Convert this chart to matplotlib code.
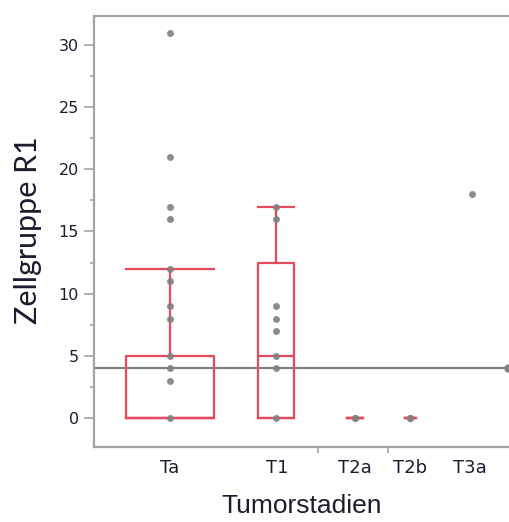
import matplotlib
matplotlib.use("Agg")
import matplotlib.pyplot as plt
from matplotlib.ticker import MultipleLocator

# data
groups = ["Ta", "T1", "T2a", "T2b", "T3a"]
ta_values = [0, 3, 4, 5, 8, 9, 11, 12, 16, 17, 21, 31]
t1_values = [0, 4, 5, 7, 8, 9, 16, 17]
t2a_values = [0, 0]
t2b_values = [0, 0]
t3a_values = [18]
points = [ta_values, t1_values, t2a_values, t2b_values, t3a_values]

# box summaries (q1, median, q3, upper whisker) for groups that have a box
box_q1 = [0, 0, 0, 0]
box_med = [0, 5, 0, 0]
box_q3 = [5, 12.5, 0, 0]
box_whishi = [12, 17, 0, 0]
grand_mean = 4.0

# layout (x in pixel-like units across the plot frame)
pos = [76, 182, 261, 316.5, 378]
label_pos = [76, 183, 261, 316, 376]
box_w = [88, 36, 16, 11]
sep_ticks = [224, 294]

RED = "#e8485e"
GRAY = "#808080"
SPINE = "#a3a3a3"
TXT = "#1c1c30"

fig = plt.figure(figsize=(5.10, 5.22), dpi=100)
ax = fig.add_axes([94 / 510, 75 / 522, 416 / 510, 431 / 522])
ax.set_xlim(0, 416)
ax.set_ylim(-2.33, 32.33)

# grand mean line
ax.axhline(grand_mean, color=GRAY, lw=1.6, zorder=2)
ax.plot([414], [grand_mean], "o", color=GRAY, ms=5, clip_on=False, zorder=2)

stats = []
for i in range(len(box_q1)):
    stats.append(dict(q1=box_q1[i], med=box_med[i], q3=box_q3[i],
                      whislo=box_q1[i], whishi=box_whishi[i], fliers=[]))
ax.bxp(stats, positions=pos[:4], widths=box_w, capwidths=box_w,
       showfliers=False, manage_ticks=False, patch_artist=False,
       boxprops=dict(color=RED, lw=1.6),
       medianprops=dict(color=RED, lw=1.6),
       whiskerprops=dict(color=RED, lw=1.6),
       capprops=dict(color=RED, lw=1.6), zorder=3)

for x, vals in zip(pos, points):
    ax.plot([x] * len(vals), vals, "o", color=GRAY, ms=5, mec="none",
            zorder=4, alpha=0.9)

ax.spines["right"].set_visible(False)
for s in ["left", "bottom", "top"]:
    ax.spines[s].set_color(SPINE)
    ax.spines[s].set_linewidth(1.6)

ax.yaxis.set_major_locator(MultipleLocator(5))
ax.yaxis.set_minor_locator(MultipleLocator(2.5))
ax.tick_params(axis="y", which="major", length=7, width=1.2, color=SPINE,
               labelsize=11.5, labelcolor=TXT, pad=4)
ax.tick_params(axis="y", which="minor", length=3, width=1.2, color=SPINE)

ax.set_xticks(sep_ticks)
ax.set_xticklabels([])
ax.tick_params(axis="x", length=4, width=1.2, color=SPINE)
for x, g in zip(label_pos, groups):
    ax.text(x, -3.3, g, ha="center", va="top", fontsize=13,
            color=TXT, family="DejaVu Sans", clip_on=False)

fig.text(28 / 510, 1 - 230 / 522, "Zellgruppe R1", rotation=90, ha="center",
         va="center", fontsize=22, color=TXT, family="Lato")
fig.text(302 / 510, 1 - 506 / 522, "Tumorstadien", ha="center", va="center",
         fontsize=19, color=TXT, family="Liberation Sans")

fig.savefig("out.png", dpi=100)
